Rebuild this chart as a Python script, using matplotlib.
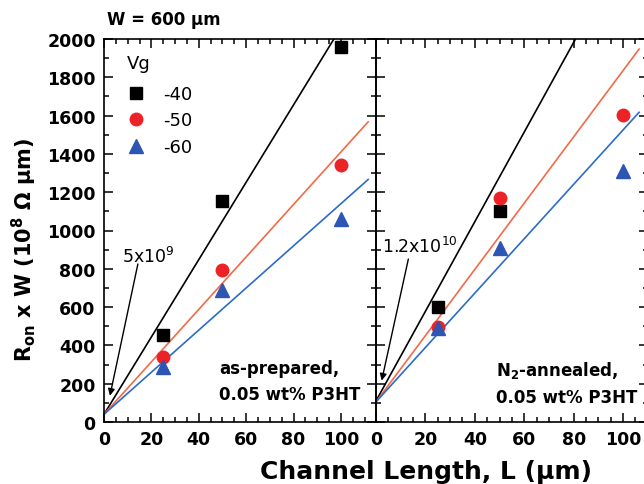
import numpy as np
import matplotlib
matplotlib.use("Agg")
import matplotlib.pyplot as plt
from matplotlib.ticker import MultipleLocator

plt.rcParams['font.family'] = ['DejaVu Sans']
plt.rcParams['mathtext.fontset'] = 'dejavusans'

# ---------------- data ----------------
vg_labels = ['-40', '-50', '-60']
channel_L = [25, 50, 100]

# as-prepared (left panel)
prep_m40 = [455, 1154, 1960]
prep_m50 = [341, 794, 1344]
prep_m60 = [289, 689, 1060]
prep_fit_slope = [20.2, 13.7, 11.0]
prep_fit_intercept = [40, 40, 40]

# N2-annealed (right panel); -40 at L=100 is off-scale
ann_m40 = [599, 1102, np.nan]
ann_m50 = [495, 1168, 1605]
ann_m60 = [489, 909, 1312]
ann_fit_slope = [23.4, 17.3, 14.2]
ann_fit_intercept = [110, 105, 105]

marker_colors = ['#000000', '#EC2227', '#2D56B2']
line_colors = ['#000000', '#F26A47', '#2B6CCB']
markers = ['s', 'o', '^']
msizes = [8, 9, 10]

# ---------------- figure ----------------
fig = plt.figure(figsize=(6.44, 4.85), dpi=100)
W, H = 644, 485
axL = fig.add_axes([104 / W, 62 / H, 272 / W, 383 / H])
axR = fig.add_axes([376 / W, 62 / H, 272 / W, 383 / H])


def style(ax, xmax, show_y):
    ax.set_xlim(0, xmax)
    ax.set_ylim(0, 2000)
    ax.xaxis.set_major_locator(MultipleLocator(20))
    ax.xaxis.set_minor_locator(MultipleLocator(5))
    ax.yaxis.set_major_locator(MultipleLocator(200))
    ax.yaxis.set_minor_locator(MultipleLocator(100))
    ax.tick_params(which='both', direction='in', top=True, right=True,
                   width=1.1, colors='black')
    ax.tick_params(which='major', length=6.5, pad=6, labelsize=12.5)
    ax.tick_params(which='minor', length=3.6)
    for s in ax.spines.values():
        s.set_linewidth(1.2)
    for lab in ax.get_xticklabels() + ax.get_yticklabels():
        lab.set_fontweight('bold')
    if not show_y:
        ax.set_yticklabels([])
    ax.set_facecolor('none')


def draw(ax, series, slopes, intercepts, xend):
    xs = np.array([0, xend])
    for i in range(3):
        ax.plot(xs, intercepts[i] + slopes[i] * xs, color=line_colors[i],
                lw=1.2, zorder=2)
    hs = []
    for i in range(3):
        h, = ax.plot(channel_L, series[i], linestyle='none', marker=markers[i],
                     ms=msizes[i], color=marker_colors[i], mec=marker_colors[i],
                     zorder=3, label=vg_labels[i])
        hs.append(h)
    return hs


hs = draw(axL, [prep_m40, prep_m50, prep_m60], prep_fit_slope, prep_fit_intercept, 111.5)
draw(axR, [ann_m40, ann_m50, ann_m60], ann_fit_slope, ann_fit_intercept, 106.5)
style(axL, 114.8, True)
style(axR, 110.1, False)

leg = axL.legend(handles=hs, title='Vg', loc='upper left',
                 bbox_to_anchor=(0.085, 0.96), frameon=False, fontsize=13,
                 title_fontsize=13, borderpad=0, borderaxespad=0,
                 handlelength=1.0, handletextpad=1.0, labelspacing=0.48)
leg._legend_box.align = 'left'
leg._legend_box.sep = 9

# annotations
axL.text(7.5, 867, r'5x10$^9$', fontsize=12.5, va='center', ha='left')
axL.annotate('', xy=(2.5, 137), xytext=(14.3, 825),
             arrowprops=dict(arrowstyle='-|>', color='black', lw=1.0,
                             mutation_scale=10, shrinkA=0, shrinkB=0))
axR.text(2.3, 919, r'1.2x10$^{10}$', fontsize=12.5, va='center', ha='left')
axR.annotate('', xy=(2.3, 216), xytext=(13.1, 851),
             arrowprops=dict(arrowstyle='-|>', color='black', lw=1.0,
                             mutation_scale=10, shrinkA=0, shrinkB=0))

axL.text(0.424, 0.165, 'as-prepared,\n0.05 wt% P3HT', transform=axL.transAxes,
         fontsize=12, fontweight='bold', va='top', ha='left', linespacing=1.55)
axR.text(0.44, 0.165, r'N$_\mathbf{2}$-annealed,' + '\n0.05 wt% P3HT',
         transform=axR.transAxes, fontsize=12, fontweight='bold', va='top',
         ha='left', linespacing=1.55)

fig.text(107 / W, 1 - 20 / H, 'W = 600 μm', fontsize=12, fontweight='bold',
         va='center', ha='left')
fig.text(426 / W, 1 - 472 / H, 'Channel Length, L (μm)', fontsize=18,
         fontweight='bold', va='center', ha='center')
fig.text(24 / W, 1 - 250 / H,
         r'R$_\mathbf{on}$ x W (10$^\mathbf{8}$ Ω μm)', fontsize=15,
         fontweight='bold', va='center', ha='center', rotation=90)

fig.savefig('out.png', dpi=100)
